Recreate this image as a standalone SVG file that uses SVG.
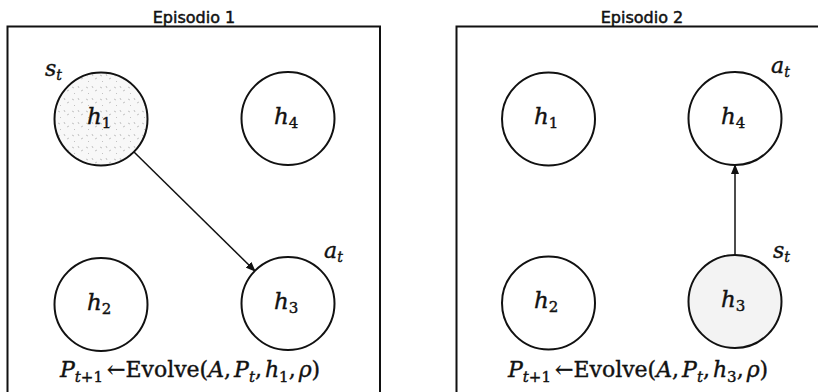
<svg xmlns="http://www.w3.org/2000/svg" width="822" height="392" viewBox="0 0 822 392">
<style>
.frame{fill:none;stroke:#111;stroke-width:2}
.node{fill:#fff;stroke:#111;stroke-width:2}
.title{font-family:"DejaVu Sans",sans-serif;font-size:16px;fill:#111;text-anchor:middle;stroke:#111;stroke-width:0.5}
.m{font-family:"DejaVu Serif","Liberation Serif",serif;fill:#111;stroke:#111;stroke-width:0.4}
.it{font-style:italic}
.edge{stroke:#111;stroke-width:1.5;fill:none;marker-end:url(#arr)}
</style>
<defs>
<marker id="arr" markerWidth="10" markerHeight="8" refX="9" refY="4" orient="auto" markerUnits="userSpaceOnUse">
<path d="M0,0 L10,4 L0,8 Z" fill="#111"/>
</marker>
<pattern id="speck" width="14" height="12" patternUnits="userSpaceOnUse">
<rect width="14" height="12" fill="#f8f8f8"/>
<path d="M2,3 l2,1 M8,2 l1,2 M11,7 l2,-1 M4,9 l1,1" stroke="#aaa" stroke-width="0.7"/>
</pattern>
</defs>

<g id="episode1">
<text class="title" x="194" y="23">Episodio 1</text>
<path class="frame" d="M7.5,393 V26.5 H380 V393"/>
</g>
<g id="episode2">
<text class="title" x="642" y="23">Episodio 2</text>
<path class="frame" d="M456.5,393 V26.5 H818"/>
</g>

<g id="connectors">
<line class="edge" x1="134" y1="152" x2="255" y2="271"/>
<line class="edge" x1="735" y1="255" x2="735" y2="165"/>
</g>

<g id="e1-h1">
<circle class="node" cx="101" cy="119" r="46.5" style="fill:url(#speck)"/>
<text class="m it" x="87" y="124" font-size="23">h<tspan font-style="normal" font-size="15" dy="4">1</tspan></text>
<text class="m it" x="45" y="76" font-size="22">s<tspan font-size="14" dy="4">t</tspan></text>
</g>
<g id="e1-h4">
<circle class="node" cx="288" cy="118.5" r="46.5"/>
<text class="m it" x="274" y="124" font-size="23">h<tspan font-style="normal" font-size="15" dy="4">4</tspan></text>
</g>
<g id="e1-h2">
<circle class="node" cx="101" cy="304.5" r="46.5"/>
<text class="m it" x="87" y="310" font-size="23">h<tspan font-style="normal" font-size="15" dy="4">2</tspan></text>
</g>
<g id="e1-h3">
<circle class="node" cx="288" cy="303.5" r="46.5"/>
<text class="m it" x="274" y="309" font-size="23">h<tspan font-style="normal" font-size="15" dy="4">3</tspan></text>
<text class="m it" x="324" y="258" font-size="22">a<tspan font-size="14" dy="4">t</tspan></text>
</g>
<g id="e1-formula">
<text class="m" x="60" y="377" font-size="22"><tspan font-style="italic">P</tspan><tspan font-style="italic" font-size="15" dy="5">t</tspan><tspan font-size="15">+1</tspan><tspan dy="-5" dx="4">←Evolve(</tspan><tspan font-style="italic">A</tspan>,<tspan font-style="italic" dx="3">P</tspan><tspan font-style="italic" font-size="15" dy="5">t</tspan><tspan dy="-5">,</tspan><tspan font-style="italic" dx="3">h</tspan><tspan font-size="15" dy="5">1</tspan><tspan dy="-5">,</tspan><tspan font-style="italic" dx="3">ρ</tspan>)</text>
</g>

<g id="e2-h1">
<circle class="node" cx="548.5" cy="119" r="46.5"/>
<text class="m it" x="534" y="124" font-size="23">h<tspan font-style="normal" font-size="15" dy="4">1</tspan></text>
</g>
<g id="e2-h4">
<circle class="node" cx="735" cy="118.5" r="46.5"/>
<text class="m it" x="721" y="124" font-size="23">h<tspan font-style="normal" font-size="15" dy="4">4</tspan></text>
<text class="m it" x="771" y="73" font-size="22">a<tspan font-size="14" dy="4">t</tspan></text>
</g>
<g id="e2-h2">
<circle class="node" cx="548.5" cy="303" r="46.5"/>
<text class="m it" x="534" y="308" font-size="23">h<tspan font-style="normal" font-size="15" dy="4">2</tspan></text>
</g>
<g id="e2-h3">
<circle class="node" cx="735" cy="301.5" r="46.5" style="fill:#f3f3f3"/>
<text class="m it" x="721" y="307" font-size="23">h<tspan font-style="normal" font-size="15" dy="4">3</tspan></text>
<text class="m it" x="773" y="258" font-size="22">s<tspan font-size="14" dy="4">t</tspan></text>
</g>
<g id="e2-formula">
<text class="m" x="508" y="377" font-size="22"><tspan font-style="italic">P</tspan><tspan font-style="italic" font-size="15" dy="5">t</tspan><tspan font-size="15">+1</tspan><tspan dy="-5" dx="4">←Evolve(</tspan><tspan font-style="italic">A</tspan>,<tspan font-style="italic" dx="3">P</tspan><tspan font-style="italic" font-size="15" dy="5">t</tspan><tspan dy="-5">,</tspan><tspan font-style="italic" dx="3">h</tspan><tspan font-size="15" dy="5">3</tspan><tspan dy="-5">,</tspan><tspan font-style="italic" dx="3">ρ</tspan>)</text>
</g>
</svg>
